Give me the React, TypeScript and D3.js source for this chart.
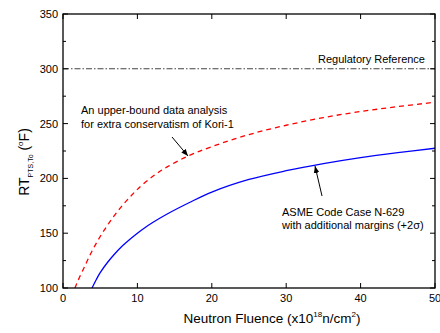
import React from "react";
import * as d3 from "d3";

// values
const asmeFluence = [3.9, 4.5, 5, 6, 7, 8, 9, 10, 11, 12, 14, 17, 20, 25, 30, 35, 40, 45, 50];
const asmeRT = [100, 108, 114, 123.5, 131.5, 138.5, 144.5, 150, 155, 159.5, 167.5, 178, 187.5, 199, 207, 213.5, 219, 223.5, 227.5];

const upperFluence = [1.6, 2, 3, 4, 5, 6, 7, 8, 9, 10, 12, 14, 17, 20, 25, 30, 35, 40, 45, 50];
const upperRT = [100, 106.5, 121, 135, 147, 157.5, 167, 175.5, 183, 190, 201.5, 210.5, 221, 229, 240, 248.5, 255.5, 261, 265.5, 269.5];

const regulatoryRT = 300;

const xTicks = [0, 10, 20, 30, 40, 50];
const yTicks = [100, 150, 200, 250, 300, 350];
const yMinorTicks = [125, 175, 225, 275, 325];

export default function App() {
  const width = 440;
  const height = 333;
  const margin = { left: 63, right: 5, top: 14, bottom: 45 };
  const font = "Liberation Sans, Arial, sans-serif";

  const x = d3.scaleLinear().domain([0, 50]).range([margin.left, width - margin.right]);
  const y = d3.scaleLinear().domain([100, 350]).range([height - margin.bottom, margin.top]);

  const line = d3
    .line<[number, number]>()
    .x((d) => x(d[0]))
    .y((d) => y(d[1]))
    .curve(d3.curveCatmullRom.alpha(0.5));

  const asme = line(asmeFluence.map((f, i) => [f, asmeRT[i]] as [number, number])) || undefined;
  const upper = line(upperFluence.map((f, i) => [f, upperRT[i]] as [number, number])) || undefined;

  const [x0, x1] = x.range();
  const [y0, y1] = y.range();

  return (
    <svg
      width={width}
      height={height}
      style={{ position: "absolute", left: 0, top: 0, background: "#fff" }}
      fontFamily={font}
    >
      <defs>
        <marker id="arrow" viewBox="0 0 10 10" refX="10" refY="5" markerWidth="7" markerHeight="7" orient="auto">
          <path d="M0,1 L10,5 L0,9 z" fill="#000" />
        </marker>
        <clipPath id="plot">
          <rect x={x0} y={y1} width={x1 - x0} height={y0 - y1} />
        </clipPath>
      </defs>

      {/* curves */}
      <g clipPath="url(#plot)">
        <line
          x1={x0}
          x2={x1}
          y1={y(regulatoryRT)}
          y2={y(regulatoryRT)}
          stroke="#444"
          strokeWidth={1.1}
          strokeDasharray="6 2 1.5 2"
        />
        <path d={upper} fill="none" stroke="#ff0000" strokeWidth={1.3} strokeDasharray="5 4" />
        <path d={asme} fill="none" stroke="#0000ff" strokeWidth={1.3} />
      </g>

      {/* frame */}
      <rect x={x0} y={y1} width={x1 - x0} height={y0 - y1} fill="none" stroke="#000" strokeWidth={1.3} />

      {/* x ticks */}
      {xTicks.map((t) => (
        <g key={"x" + t}>
          <line x1={x(t)} x2={x(t)} y1={y0} y2={y0 - 5} stroke="#000" />
          <line x1={x(t)} x2={x(t)} y1={y1} y2={y1 + 5} stroke="#000" />
          <text x={x(t)} y={y0 + 14} fontSize={11} textAnchor="middle" fill="#000">
            {t}
          </text>
        </g>
      ))}

      {/* y ticks */}
      {yTicks.map((t) => (
        <g key={"y" + t}>
          <line x1={x0} x2={x0 + 5} y1={y(t)} y2={y(t)} stroke="#000" />
          <line x1={x1} x2={x1 - 5} y1={y(t)} y2={y(t)} stroke="#000" />
          <text x={x0 - 5} y={y(t) + 4} fontSize={11} textAnchor="end" fill="#000">
            {t}
          </text>
        </g>
      ))}
      {yMinorTicks.map((t) => (
        <g key={"ym" + t}>
          <line x1={x0} x2={x0 + 3} y1={y(t)} y2={y(t)} stroke="#000" />
          <line x1={x1} x2={x1 - 3} y1={y(t)} y2={y(t)} stroke="#000" />
        </g>
      ))}

      {/* axis titles */}
      <text x={272} y={323} fontSize={13.5} textAnchor="middle" fill="#000">
        Neutron Fluence (x10
        <tspan fontSize={8} dy={-6}>18</tspan>
        <tspan dy={6}>n/cm</tspan>
        <tspan fontSize={8} dy={-6}>2</tspan>
        <tspan dy={6}>)</tspan>
      </text>
      <text transform="translate(29,162) rotate(-90)" fontSize={14} textAnchor="middle" fill="#000">
        RT
        <tspan fontSize={7} dy={4}>PTS,To</tspan>
        <tspan dy={-4}> (</tspan>
        <tspan fontSize={8} dy={-6}>o</tspan>
        <tspan dy={6}>F)</tspan>
      </text>

      {/* annotations */}
      <text x={425} y={63} fontSize={11} textAnchor="end" fill="#000">
        Regulatory Reference
      </text>
      <text x={81} y={114} fontSize={11} fill="#000">
        An upper-bound data analysis
      </text>
      <text x={81} y={128} fontSize={11} fill="#000">
        for extra conservatism of Kori-1
      </text>
      <line x1={172} y1={137} x2={188} y2={156} stroke="#000" strokeWidth={1} markerEnd="url(#arrow)" />

      <text x={282} y={216} fontSize={11} fill="#000">
        ASME Code Case N-629
      </text>
      <text x={282} y={229} fontSize={11} fill="#000">
        with additional margins (+2σ)
      </text>
      <line x1={322} y1={196} x2={315} y2={166} stroke="#000" strokeWidth={1} markerEnd="url(#arrow)" />
    </svg>
  );
}
